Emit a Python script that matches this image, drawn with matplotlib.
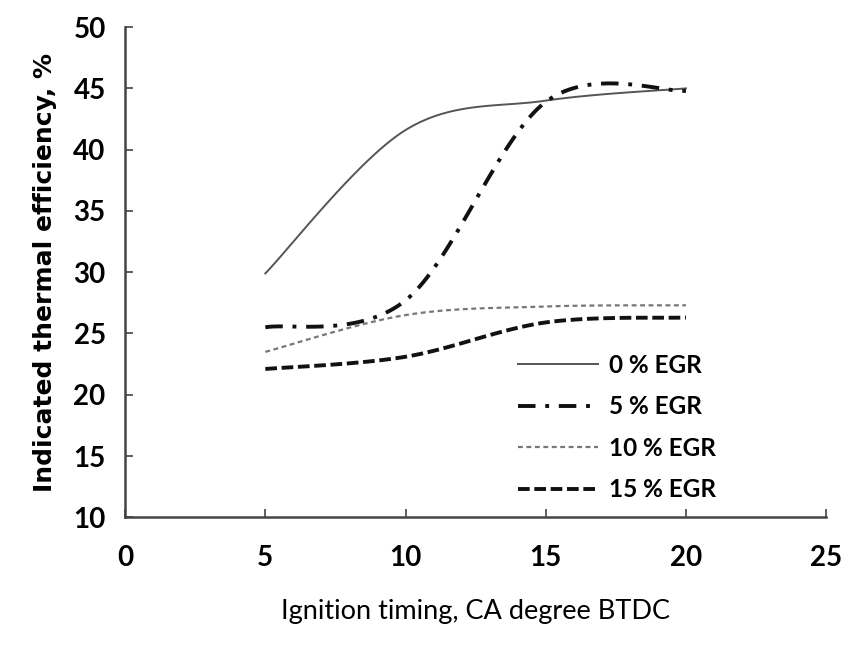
import numpy as np
import matplotlib
matplotlib.use("Agg")
import matplotlib.pyplot as plt

# ignition timing (CA degree BTDC)
timing = [5, 10, 15, 20]

# indicated thermal efficiency, %
egr_0 = [29.9, 41.6, 44.0, 45.0]
egr_5 = [25.5, 27.7, 43.9, 44.8]
egr_10 = [23.5, 26.5, 27.2, 27.3]
egr_15 = [22.1, 23.1, 25.9, 26.3]

series_labels = ["0 % EGR", "5 % EGR", "10 % EGR", "15 % EGR"]

###############################################################################

def smooth(xs, ys, n=40):
    ''' Excel-like smoothed line: cubic Bezier segments with Catmull-Rom control points '''
    pts = np.column_stack([xs, ys]).astype(float)
    out = []
    for i in range(len(pts) - 1):
        p0 = pts[max(i - 1, 0)]
        p1 = pts[i]
        p2 = pts[i + 1]
        p3 = pts[min(i + 2, len(pts) - 1)]
        c1 = p1 + (p2 - p0) / 6.0
        c2 = p2 - (p3 - p1) / 6.0
        t = np.linspace(0, 1, n)[:, None]
        seg = ((1 - t) ** 3) * p1 + 3 * ((1 - t) ** 2) * t * c1 \
            + 3 * (1 - t) * t ** 2 * c2 + t ** 3 * p2
        out.append(seg if i == 0 else seg[1:])
    out = np.vstack(out)
    return out[:, 0], out[:, 1]

###############################################################################

plt.rcParams['font.family'] = ['Lato', 'DejaVu Sans']

fig = plt.figure(figsize=(8.57, 6.45), dpi=100)
ax = fig.add_axes([0.146, 0.198, 0.818, 0.76])

styles = [
    dict(color="#555555", lw=1.4, ls="-"),
    dict(color="#111111", lw=2.8, ls=(0, (4.5, 2.5, 1.0, 2.5))),
    dict(color="#777777", lw=1.6, ls=(0, (2.2, 1.6))),
    dict(color="#111111", lw=2.8, ls=(0, (3, 1.2))),
]

for ys, lab, st in zip([egr_0, egr_5, egr_10, egr_15], series_labels, styles):
    sx, sy = smooth(timing, ys)
    ax.plot(sx, sy, label=lab, **st)

ax.set_xlim(0, 25)
ax.set_ylim(10, 50)
ax.set_xticks(np.arange(0, 26, 5))
ax.set_yticks(np.arange(10, 51, 5))

for s in ["top", "right"]:
    ax.spines[s].set_visible(False)
for s in ["left", "bottom"]:
    ax.spines[s].set_color("#444444")
    ax.spines[s].set_linewidth(1.8)

ax.tick_params(direction="in", length=6, width=1.2, color="#444444",
               labelsize=20)
ax.tick_params(axis="x", pad=20)
ax.tick_params(axis="y", pad=14)
for lbl in ax.get_xticklabels() + ax.get_yticklabels():
    lbl.set_fontweight("bold")

ax.set_xlabel("Ignition timing, CA degree BTDC", fontsize=19.5, labelpad=20)
ax.set_ylabel("Indicated thermal efficiency, %", fontsize=18,
              fontweight="bold", labelpad=12, family=["DejaVu Sans"])

leg = ax.legend(loc="lower right", bbox_to_anchor=(0.874, -0.012), frameon=False,
                fontsize=17.5, handlelength=3.3, handletextpad=0.45,
                labelspacing=0.76)
for t in leg.get_texts():
    t.set_fontweight("bold")

fig.savefig("out.png", dpi=100)
